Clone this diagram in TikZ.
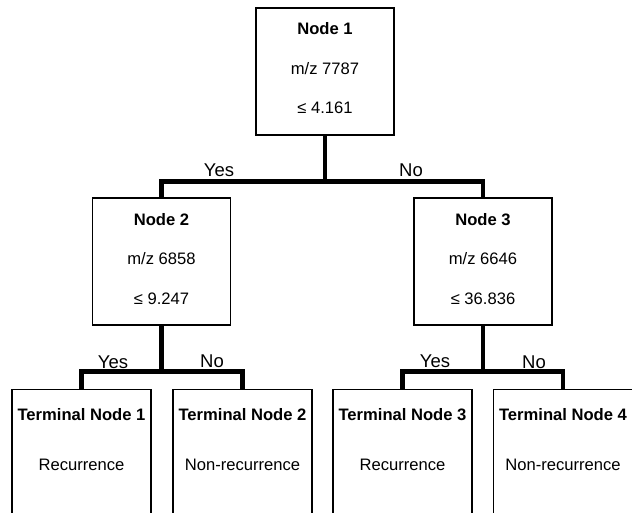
\documentclass[tikz,border=0pt]{standalone}
\usepackage{fontspec}
\setmainfont{Liberation Sans}
\begin{document}
\begin{tikzpicture}[x=1pt,y=-1pt,
  split/.style={draw=black,line width=1.4pt,minimum width=138pt,minimum height=127pt,inner sep=0pt},
  leaf/.style={draw=black,line width=1.4pt,minimum width=139pt,minimum height=150pt,inner sep=0pt,anchor=north},
  title/.style={font=\fontsize{16.6}{19}\selectfont\bfseries,anchor=base},
  body/.style={font=\fontsize{16.6}{19}\selectfont,anchor=base},
  branch/.style={font=\fontsize{18.5}{21}\selectfont,anchor=base},
  conn/.style={draw=black,line width=4.3pt,line join=miter}]
\useasboundingbox (0,0) rectangle (632,513);
\clip (0,0) rectangle (632,513);

% split nodes
\node[split] (n1) at (325,71.5) {};
\node[split] (n2) at (161.5,261.5) {};
\node[split] (n3) at (483,261.5) {};

\node[title] (n1a) at (325,35) {Node 1};
\node[body]  (n1b) at (325,75) {m/z 7787};
\node[body]  (n1c) at (325,114) {≤ 4.161};

\node[title] (n2a) at (161.5,226) {Node 2};
\node[body]  (n2b) at (161.5,265) {m/z 6858};
\node[body]  (n2c) at (161.5,304) {≤ 9.247};

\node[title] (n3a) at (483,226) {Node 3};
\node[body]  (n3b) at (483,265) {m/z 6646};
\node[body]  (n3c) at (483,304) {≤ 36.836};

% terminal nodes (open at the lower edge)
\node[leaf] (t1) at (81.5,389) {};
\node[leaf] (t2) at (242.5,389) {};
\node[leaf] (t3) at (402.5,389) {};
\node[leaf] (t4) at (563,389) {};

\node[title] (t1a) at (81.5,420) {Terminal Node 1};
\node[title] (t2a) at (242.5,420) {Terminal Node 2};
\node[title] (t3a) at (402.5,420) {Terminal Node 3};
\node[title] (t4a) at (563,420) {Terminal Node 4};
\node[body]  (t1b) at (81.5,470) {Recurrence};
\node[body]  (t2b) at (242.5,470) {Non-recurrence};
\node[body]  (t3b) at (402.5,470) {Recurrence};
\node[body]  (t4b) at (563,470) {Non-recurrence};

% branch junctions
\coordinate (j1) at (325,181.5);
\coordinate (j2) at (161.5,371.5);
\coordinate (j3) at (483,371.5);

\draw[conn] (n1.south) -- (j1);
\draw[conn] (n2.north) |- (j1) -| (n3.north);
\draw[conn] (n2.south) -- (j2);
\draw[conn] (t1.north) |- (j2) -| (t2.north);
\draw[conn] (n3.south) -- (j3);
\draw[conn] (t3.north) |- (j3) -| (t4.north);

% branch labels
\node[branch] (y1) at (219,177) {Yes};
\node[branch] (o1) at (411,177) {No};
\node[branch] (y2) at (113,368) {Yes};
\node[branch] (o2) at (212,367) {No};
\node[branch] (y3) at (435,367) {Yes};
\node[branch] (o3) at (534,368) {No};
\end{tikzpicture}
\end{document}
